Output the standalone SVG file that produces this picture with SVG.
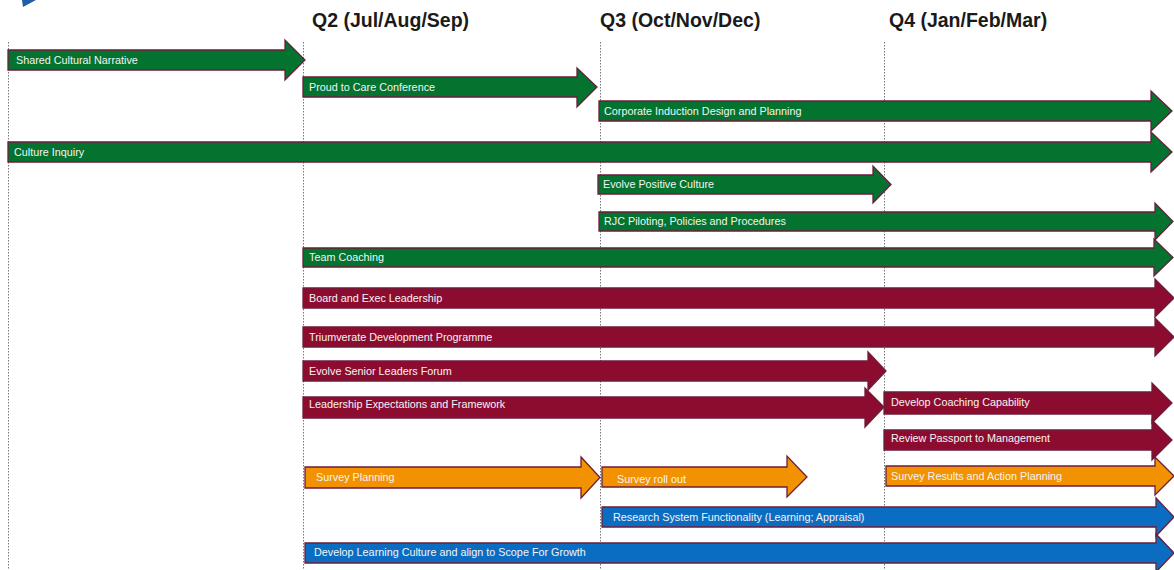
<svg xmlns="http://www.w3.org/2000/svg" width="1174" height="570" viewBox="0 0 1174 570">
<style>
.hdr{font-family:"Liberation Sans",Arial,sans-serif;font-weight:bold;font-size:19.5px;fill:#1a1a1a}
.lbl{font-family:"Liberation Sans",Arial,sans-serif;font-size:10.8px;fill:#f4f4f4}
.arr{stroke:#6E1D3A;stroke-width:1.3;stroke-linejoin:miter}
.g{fill:#03732F}.m{fill:#8C0C30}.o{fill:#F29200}.b{fill:#0B6DC2}
.grid{stroke:#777;stroke-width:1;stroke-dasharray:1.5 1.5;fill:none}
</style>
<rect width="1174" height="570" fill="#ffffff"/>
<polygon points="22,0 36,0 23,7" fill="#1F5FAA"/>
<g id="headers">
<text class="hdr" x="312" y="27">Q2 (Jul/Aug/Sep)</text>
<text class="hdr" x="600" y="27">Q3 (Oct/Nov/Dec)</text>
<text class="hdr" x="889" y="27">Q4 (Jan/Feb/Mar)</text>
</g>
<g id="connectors">
<line class="grid" x1="8.5" y1="42" x2="8.5" y2="570"/>
<line class="grid" x1="303.5" y1="42" x2="303.5" y2="570"/>
<line class="grid" x1="600.5" y1="42" x2="600.5" y2="570"/>
<line class="grid" x1="884.5" y1="42" x2="884.5" y2="570"/>
</g>
<g id="n1"><path class="arr g" d="M8,50 H285 V40 L305,60 L285,80 V70 H8 Z"/><text class="lbl" x="16" y="63.8">Shared Cultural Narrative</text></g>
<g id="n2"><path class="arr g" d="M303,77 H577 V68 L597,87 L577,107 V97 H303 Z"/><text class="lbl" x="309" y="90.8">Proud to Care Conference</text></g>
<g id="n3"><path class="arr g" d="M599,101 H1151 V91 L1172,111 L1151,131 V121 H599 Z"/><text class="lbl" x="604" y="115.3">Corporate Induction Design and Planning</text></g>
<g id="n4"><path class="arr g" d="M8,142 H1151 V132 L1172,152 L1151,172 V162 H8 Z"/><text class="lbl" x="14" y="155.8">Culture Inquiry</text></g>
<g id="n5"><path class="arr g" d="M598,175 H873 V166 L891,184.5 L873,203 V194 H598 Z"/><text class="lbl" x="603" y="188.3">Evolve Positive Culture</text></g>
<g id="n6"><path class="arr g" d="M599,212 H1155 V203 L1173,221.5 L1155,240 V231 H599 Z"/><text class="lbl" x="604" y="225.3">RJC Piloting, Policies and Procedures</text></g>
<g id="n7"><path class="arr g" d="M303,248 H1154 V239 L1173,257.5 L1154,276 V267 H303 Z"/><text class="lbl" x="309" y="261.3">Team Coaching</text></g>
<g id="n8"><path class="arr m" d="M303,288 H1155 V279 L1174,298 L1155,317 V308 H303 Z"/><text class="lbl" x="309" y="301.8">Board and Exec Leadership</text></g>
<g id="n9"><path class="arr m" d="M303,327 H1155 V318 L1174,337 L1155,356 V347 H303 Z"/><text class="lbl" x="309" y="340.8">Triumverate Development Programme</text></g>
<g id="n10"><path class="arr m" d="M303,361 H868 V352 L886,371 L868,390 V381 H303 Z"/><text class="lbl" x="309" y="374.8">Evolve Senior Leaders Forum</text></g>
<g id="n11"><path class="arr m" d="M303,397 H865 V388 L884,407 L865,427 V418 H303 Z"/><text class="lbl" x="309" y="407.8">Leadership Expectations and Framework</text></g>
<g id="n12"><path class="arr m" d="M884,392 H1152 V383 L1172,403 L1152,423 V414 H884 Z"/><text class="lbl" x="891" y="405.8">Develop Coaching Capability</text></g>
<g id="n13"><path class="arr m" d="M884,430 H1152 V420 L1172,440 L1152,460 V450 H884 Z"/><text class="lbl" x="891" y="441.8">Review Passport to Management</text></g>
<g id="n14"><path class="arr o" d="M305,467 H581 V457 L600,477.5 L581,498 V488 H305 Z"/><text class="lbl" x="316" y="481.3">Survey Planning</text></g>
<g id="n15"><path class="arr o" d="M602,467 H787 V456 L807,477 L787,497 V487 H602 Z"/><text class="lbl" x="617" y="482.8">Survey roll out</text></g>
<g id="n16"><path class="arr o" d="M886,466 H1155 V457 L1174,476 L1155,495 V486 H886 Z"/><text class="lbl" x="891" y="479.8">Survey Results and Action Planning</text></g>
<g id="n17"><path class="arr b" d="M602,507 H1156 V498 L1174,517 L1156,536 V527 H602 Z"/><text class="lbl" x="613" y="520.8">Research System Functionality (Learning; Appraisal)</text></g>
<g id="n18"><path class="arr b" d="M305,543 H1156 V534 L1174,553 L1156,572 V563 H305 Z"/><text class="lbl" x="314" y="556.3">Develop Learning Culture and align to Scope For Growth</text></g>
</svg>
